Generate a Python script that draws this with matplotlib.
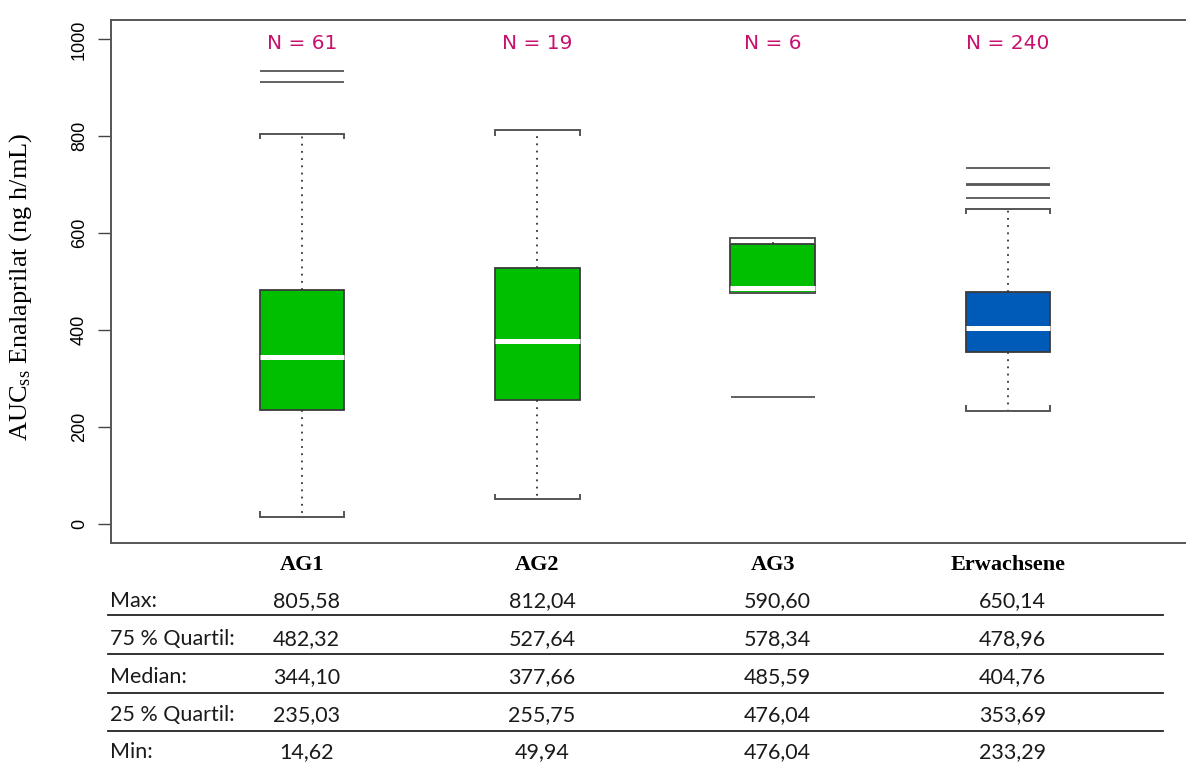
import matplotlib
matplotlib.use("Agg")
import matplotlib.pyplot as plt
from matplotlib.transforms import blended_transform_factory
from matplotlib.lines import Line2D

plt.rcParams["mathtext.fontset"] = "custom"
plt.rcParams["mathtext.rm"] = "Liberation Serif"
plt.rcParams["mathtext.it"] = "Liberation Serif:italic"

# Altersgruppen und Kennwerte der AUC_ss (ng h/mL)
gruppen = ["AG1", "AG2", "AG3", "Erwachsene"]
n_werte = [61, 19, 6, 240]
maxima = [805.58, 812.04, 590.60, 650.14]
q75 = [482.32, 527.64, 578.34, 478.96]
mediane = [344.10, 377.66, 485.59, 404.76]
q25 = [235.03, 255.75, 476.04, 353.69]
minima = [14.62, 49.94, 476.04, 233.29]
ausreisser = [[912, 935], [], [261], [673, 699, 702, 735]]
farben = ["#00BE00", "#00BE00", "#00BE00", "#005BB8"]

tabelle = [("Max:", maxima), ("75 % Quartil:", q75), ("Median:", mediane),
           ("25 % Quartil:", q25), ("Min:", minima)]

W, H = 1186, 763
fig = plt.figure(figsize=(W / 100, H / 100), dpi=100)
ax = fig.add_axes([110.7 / W, 1 - 543 / H, (1200 - 110.7) / W, (543 - 20) / H])

pos = [1, 2, 3, 4]
breite = 0.36
stats = []
for i in range(4):
    stats.append(dict(med=mediane[i], q1=q25[i], q3=q75[i], whislo=minima[i],
                      whishi=maxima[i], fliers=ausreisser[i], label=gruppen[i]))

grau = "#333333"
bp = ax.bxp(stats, positions=pos, widths=breite, capwidths=breite, patch_artist=True,
            boxprops=dict(edgecolor="#3a3a3a", linewidth=1.3),
            medianprops=dict(color="white", linewidth=3.6, solid_capstyle="butt"),
            whiskerprops=dict(color=grau, linewidth=1.3, linestyle=(0, (1, 3))),
            capprops=dict(color="#555555", linewidth=1.4),
            flierprops=dict(marker="_", markersize=breite * 235.3 * 0.72,
                            markeredgecolor="#555555", markeredgewidth=1.3))
for box, f in zip(bp["boxes"], farben):
    box.set_facecolor(f)

# kleine Endstriche an den Whisker-Kappen
for i, p in enumerate(pos):
    for x in (p - breite / 2, p + breite / 2):
        ax.vlines(x, maxima[i] - 11, maxima[i], color="#555555", lw=1.4)
        ax.vlines(x, minima[i], minima[i] + 11, color="#555555", lw=1.4)

# Fallzahlen oben
for p, n in zip(pos, n_werte):
    ax.text(p, 992, f"N = {n}", ha="center", va="center", color="#C8106E",
            fontsize=14.5, family="DejaVu Sans")

ax.set_xlim(0.187, 4.816)
ax.set_ylim(-40, 1040)
ax.set_yticks([0, 200, 400, 600, 800, 1000])
ax.set_yticklabels(["0", "200", "400", "600", "800", "1000"], rotation=90,
                   va="center", family="Liberation Sans", fontsize=13)
ax.tick_params(axis="y", length=9.4, width=1.0, color="#444444", pad=7)
ax.set_xticks([])
for s in ["left", "top", "bottom"]:
    ax.spines[s].set_color("#555555")
    ax.spines[s].set_linewidth(1.4)
ax.spines["right"].set_visible(False)

ax.set_ylabel(r"AUC$_\mathrm{ss}$ Enalaprilat (ng h/mL)", family="Liberation Serif",
              fontsize=19, va="center")
ax.yaxis.set_label_coords(-0.083, 0.49)

# Gruppennamen und Tabelle unterhalb der Achse
tr = blended_transform_factory(ax.transData, fig.transFigure)
for p, g in zip(pos, gruppen):
    ax.text(p, 1 - 565 / H, g, transform=tr, ha="center", va="center",
            family="Liberation Serif", fontweight="bold", fontsize=16, clip_on=False)

zeilen_y = [601, 639, 677, 715, 752]
linien_y = [615, 654, 693, 731]
for (name, werte), y in zip(tabelle, zeilen_y):
    fig.text(110 / W, 1 - y / H, name, ha="left", va="center", family="Lato",
             fontsize=15.5, color="#1a1a1a")
    for p, v in zip(pos, werte):
        ax.text(p + 0.02, 1 - y / H, f"{v:.2f}".replace(".", ","), transform=tr,
                ha="center", va="center", family="Lato", fontsize=15.5,
                color="#1a1a1a", clip_on=False)
for y in linien_y:
    fig.add_artist(Line2D([108 / W, 1163 / W], [1 - y / H, 1 - y / H],
                          transform=fig.transFigure, color="#222222", lw=1.3))

fig.savefig("out.png", dpi=100, facecolor="white")
